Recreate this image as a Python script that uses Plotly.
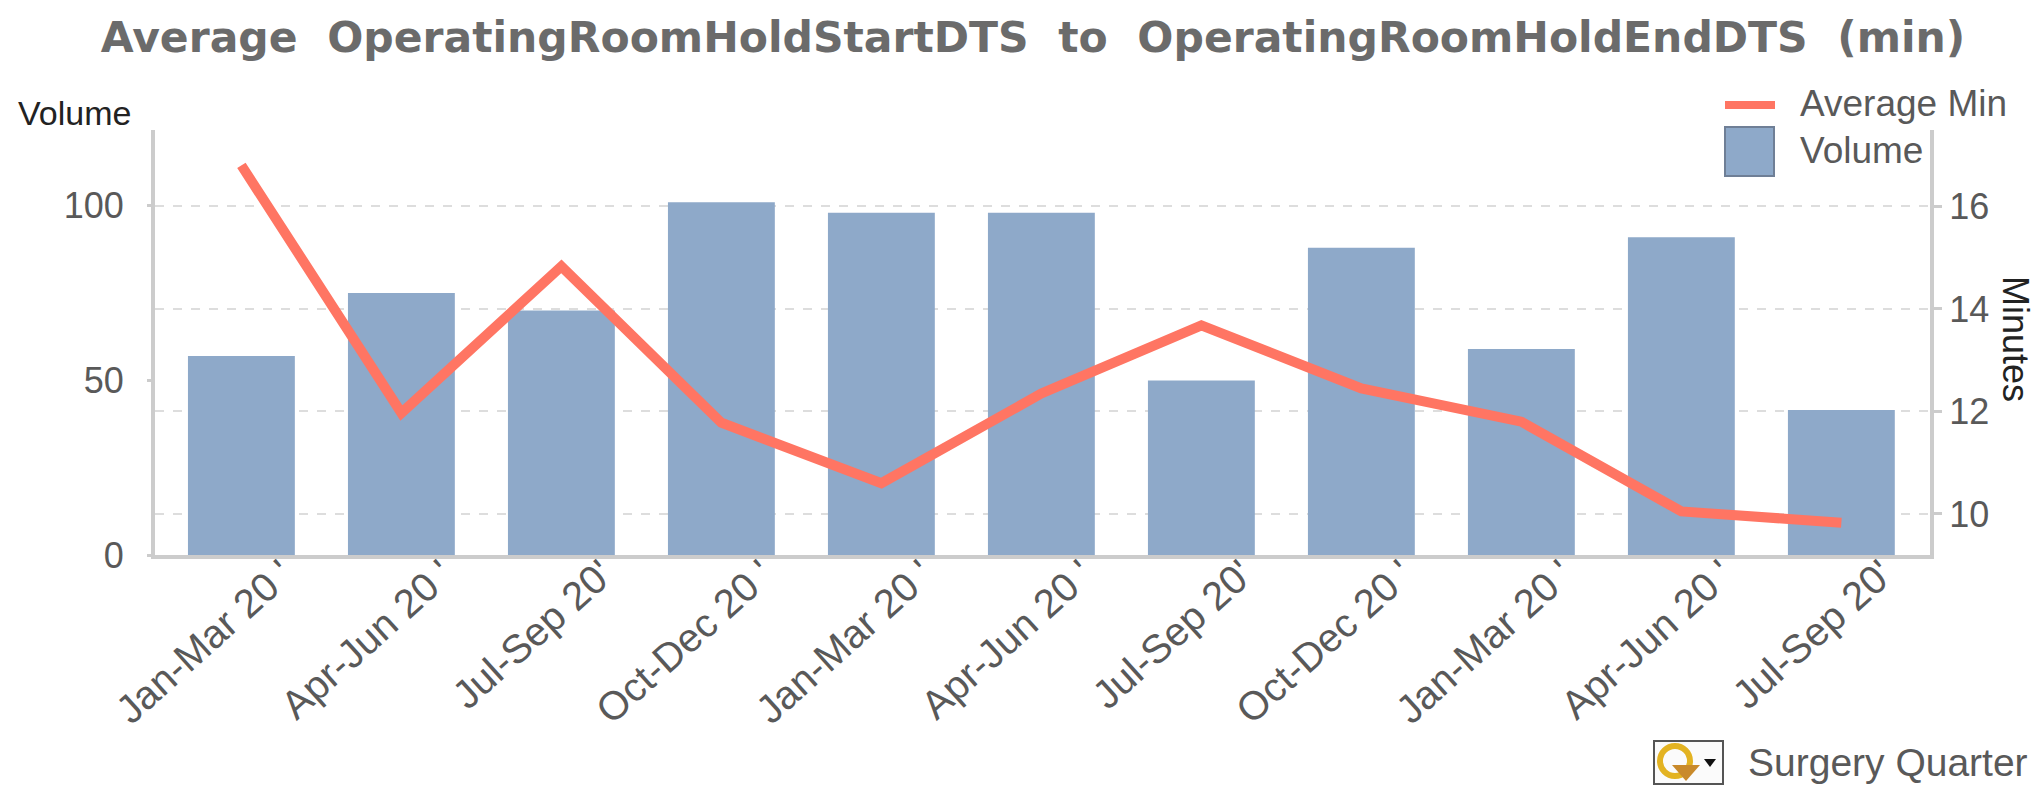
import plotly.graph_objects as go

categories = ["Jan-Mar 20 '", "Apr-Jun 20 '", "Jul-Sep 20'", "Oct-Dec 20 '", "Jan-Mar 20 '", "Apr-Jun 20 '",
              "Jul-Sep 20'", "Oct-Dec 20 '", "Jan-Mar 20 '", "Apr-Jun 20 '", "Jul-Sep 20'"]
positions = list(range(11))
volume = [57, 75, 70, 101, 98, 98, 50, 88, 59, 91, 41.5]
avg_min = [16.8, 11.97, 14.83, 11.78, 10.6, 12.35, 13.68, 12.45, 11.8, 10.05, 9.83]

W, H = 2043, 785
L, R, T, B = 155, 1930, 130, 555
FONT = "Liberation Sans"
GREY = "#595959"
BAR = "#8EA9C9"
LINE = "#FF7563"
AXIS = "#CCCCCC"


def px(x):
    return (x - L) / (R - L)


def py(y):
    return (B - y) / (B - T)


fig = go.Figure()
fig.add_trace(go.Bar(x=positions, y=volume, name="Volume", width=0.668,
                     marker=dict(color=BAR, line=dict(width=0)), yaxis="y"))
fig.add_trace(go.Scatter(x=positions, y=avg_min, name="Average Min", mode="lines",
                         line=dict(color=LINE, width=10), yaxis="y2"))

shapes = [
    dict(type="line", xref="paper", yref="paper", x0=px(1725), x1=px(1775), y0=py(105), y1=py(105),
         line=dict(color=LINE, width=8)),
    dict(type="rect", xref="paper", yref="paper", x0=px(1725), x1=px(1774), y0=py(127), y1=py(176),
         fillcolor=BAR, line=dict(color="#6F7F96", width=2)),
    dict(type="rect", xref="paper", yref="paper", x0=px(1654), x1=px(1723), y0=py(741), y1=py(784),
         fillcolor="#FBFBFB", line=dict(color="#555555", width=2)),
    dict(type="circle", xref="paper", yref="paper", x0=px(1660), x1=px(1690), y0=py(746), y1=py(776),
         fillcolor="rgba(0,0,0,0)", line=dict(color="#E3B322", width=6)),
    dict(type="path", xref="paper", yref="paper",
         path=f"M {px(1672)} {py(765)} L {px(1700)} {py(765)} L {px(1686)} {py(781)} Z",
         fillcolor="#C98A2B", line=dict(width=0)),
    dict(type="path", xref="paper", yref="paper",
         path=f"M {px(1704)} {py(759)} L {px(1716)} {py(759)} L {px(1710)} {py(767)} Z",
         fillcolor="#111111", line=dict(width=0)),
]

annotations = [
    dict(text="Volume", x=px(16), y=py(113), font=dict(size=34, color="#222222", family=FONT)),
    dict(text="Average Min", x=px(1798), y=py(103), font=dict(size=37, color=GREY, family=FONT)),
    dict(text="Volume", x=px(1798), y=py(150), font=dict(size=37, color=GREY, family=FONT)),
    dict(text="Surgery Quarter", x=px(1746), y=py(762), font=dict(size=39, color=GREY, family=FONT)),
    dict(text="Minutes", x=px(2016), y=py(339), textangle=90, xanchor="center",
         font=dict(size=36, color="#222222", family=FONT)),
]
for a in annotations:
    a.update(xref="paper", yref="paper", showarrow=False, yanchor="middle")
    a.setdefault("xanchor", "left")

fig.update_layout(
    width=W, height=H, autosize=False,
    margin=dict(l=L, r=W - R, t=T, b=H - B, pad=0),
    paper_bgcolor="white", plot_bgcolor="white",
    showlegend=False,
    title=dict(
        text="<b>Average\u00a0\u00a0OperatingRoomHoldStartDTS\u00a0\u00a0to\u00a0\u00a0OperatingRoomHoldEndDTS\u00a0\u00a0(min)</b>",
        x=1033 / W, xanchor="center", y=1 - 37 / H, yanchor="middle",
        font=dict(size=42.5, color="#6B6B6B", family="DejaVu Sans"),
    ),
    xaxis=dict(
        range=[-0.54, 10.554], tickmode="array", tickvals=positions, ticktext=categories,
        tickangle=-42, ticks="", showgrid=False, zeroline=False,
        showline=True, linecolor=AXIS, linewidth=4, ticklabelshift=41, ticklabelstandoff=-24,
        tickfont=dict(size=40, color=GREY, family=FONT),
    ),
    yaxis=dict(
        range=[0, 121.7], tickvals=[0, 50, 100], ticks="outside", ticklen=4, tickwidth=3, tickcolor=AXIS,
        showgrid=False, zeroline=False, showline=True, linecolor=AXIS, linewidth=4, ticklabelstandoff=16,
        tickfont=dict(size=36, color=GREY, family=FONT),
    ),
    yaxis2=dict(
        overlaying="y", side="right", range=[9.2, 17.49], tickvals=[10, 12, 14, 16],
        ticks="outside", ticklen=8, tickwidth=3, tickcolor=AXIS,
        showgrid=True, gridcolor="#DDDDDD", griddash="dash", gridwidth=2, zeroline=False,
        showline=True, linecolor=AXIS, linewidth=4,
        tickfont=dict(size=36, color=GREY, family=FONT),
    ),
    shapes=shapes, annotations=annotations,
)

fig.write_html("out.html", config=dict(displayModeBar=False), post_script="document.body.style.margin='0';")
